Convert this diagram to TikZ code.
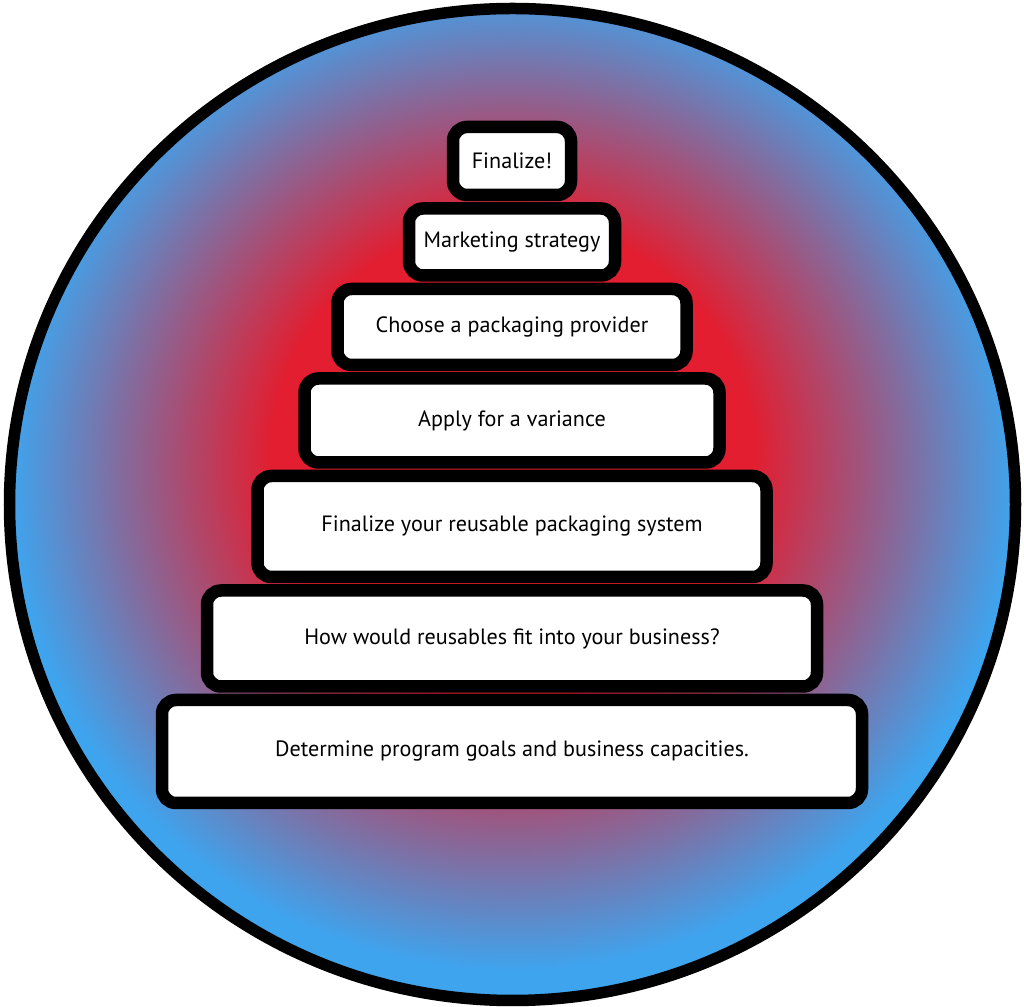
\documentclass[tikz,border=0pt]{standalone}
\usepackage{fontspec}
\setmainfont{PT Sans}
\usetikzlibrary{positioning}

\definecolor{hotred}{RGB}{226,30,48}
\definecolor{skyblue}{RGB}{62,164,238}
\pgfdeclareradialshading{glow}{\pgfpoint{0bp}{3bp}}{color(0bp)=(hotred); color(12bp)=(hotred); color(25bp)=(skyblue); color(50bp)=(skyblue)}

\begin{document}
\begin{tikzpicture}[node distance=0.27cm,
  stage/.style={draw, rectangle, rounded corners=0.28cm, line width=0.25cm, fill=white,
    outer sep=0pt, inner sep=0pt, font=\fontsize{12.6}{14}\selectfont}]
\useasboundingbox (0,0) rectangle (20.48,20.14);
% 背景
\shade[shading=glow, draw=black, line width=0.23cm] (10.25,10.05) ellipse [x radius=10.06cm, y radius=9.92cm];
% 台阶
\node[stage, minimum width=2.36cm, minimum height=1.36cm] (finalize) at (10.24,16.92) {Finalize!};
\node[stage, minimum width=4.12cm, minimum height=1.34cm, below=of finalize] (marketing) {Marketing strategy};
\node[stage, minimum width=6.98cm, minimum height=1.52cm, below=of marketing] (provider) {Choose a packaging provider};
\node[stage, minimum width=8.30cm, minimum height=1.68cm, below=of provider] (variance) {Apply for a variance};
\node[stage, minimum width=10.18cm, minimum height=2.02cm, below=of variance] (system) {Finalize your reusable packaging system};
\node[stage, minimum width=12.20cm, minimum height=1.92cm, below=of system] (fit) {How would reusables fit into your business?};
\node[stage, minimum width=14.00cm, minimum height=2.06cm, below=of fit] (goals) {Determine program goals and business capacities.};
\end{tikzpicture}
\end{document}
